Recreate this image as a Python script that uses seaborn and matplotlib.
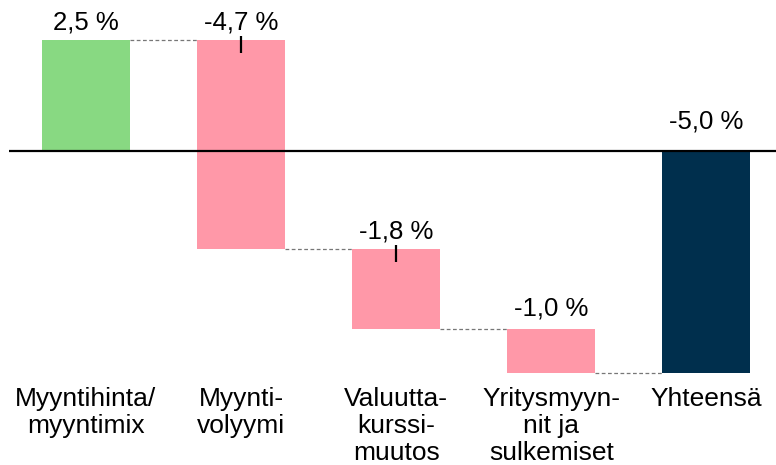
import numpy as np
import pandas as pd
import matplotlib
matplotlib.use("Agg")
import matplotlib.pyplot as plt
import seaborn as sns

# data (percent change)
categories = ["Myyntihinta/\nmyyntimix", "Myynti-\nvolyymi", "Valuutta-\nkurssi-\nmuutos",
              "Yritysmyyn-\nnit ja\nsulkemiset", "Yhteensä"]
changes = [2.5, -4.7, -1.8, -1.0]
total = -5.0
value_labels = ["2,5 %", "-4,7 %", "-1,8 %", "-1,0 %", "-5,0 %"]

bar_colors = ["#88D982", "#FF98A8", "#FF98A8", "#FF98A8", "#002F4D"]

# floating bars for the waterfall
ends = np.cumsum(changes)
starts = np.concatenate([[0], ends[:-1]])
bottoms = list(starts) + [0]
heights = list(changes) + [total]
df = pd.DataFrame({"cat": categories, "height": heights, "bottom": bottoms})

sns.set_style("white")
plt.rcParams["font.family"] = ["Liberation Sans", "DejaVu Sans"]

fig = plt.figure(figsize=(7.76, 4.65), dpi=100)
ax = fig.add_axes([0, 90 / 465, 1, 375 / 465])

sns.barplot(data=df, x="cat", y="height", bottom=df["bottom"].values, color="#888888",
            errorbar=None, width=0.567, linewidth=0, ax=ax)
for patch, c in zip(ax.patches, bar_colors):
    patch.set_facecolor(c)

# dashed connectors between bars
levels = list(ends)
for i, lvl in enumerate(levels):
    ax.hlines(lvl, i + 0.567 / 2, i + 1 - 0.567 / 2, colors="#777777", linestyles=(0, (3, 2)),
              linewidth=0.9, zorder=1)

# zero line
ax.hlines(0, -0.497, 4.46, colors="black", linewidth=1.6, zorder=5)

# value labels
tops = [max(b, b + h) for b, h in zip(bottoms, heights)]
for i, (t, lab) in enumerate(zip(tops, value_labels)):
    off = 0.5 if i == 4 else (0.3 if i == 3 else 0.23)
    ax.text(i, t + off, lab, ha="center", va="baseline", fontsize=18.5, color="black")

# small markers on the falling bars
for i in [1, 2]:
    ax.vlines(i, tops[i] - 0.3, tops[i] + 0.08, colors="black", linewidth=1.6, zorder=6)

ax.set_xlim(-0.5545, 4.449)
ax.set_ylim(-(375 - 151) / 44.4, 151 / 44.4)
ax.set_xlabel("")
ax.set_ylabel("")
ax.set_yticks([])
ax.tick_params(axis="x", length=0, pad=8.5, labelsize=19, labelcolor="black")
for lab in ax.get_xticklabels():
    lab.set_linespacing(1.17)
sns.despine(ax=ax, left=True, bottom=True)

fig.savefig("out.png", dpi=100)
